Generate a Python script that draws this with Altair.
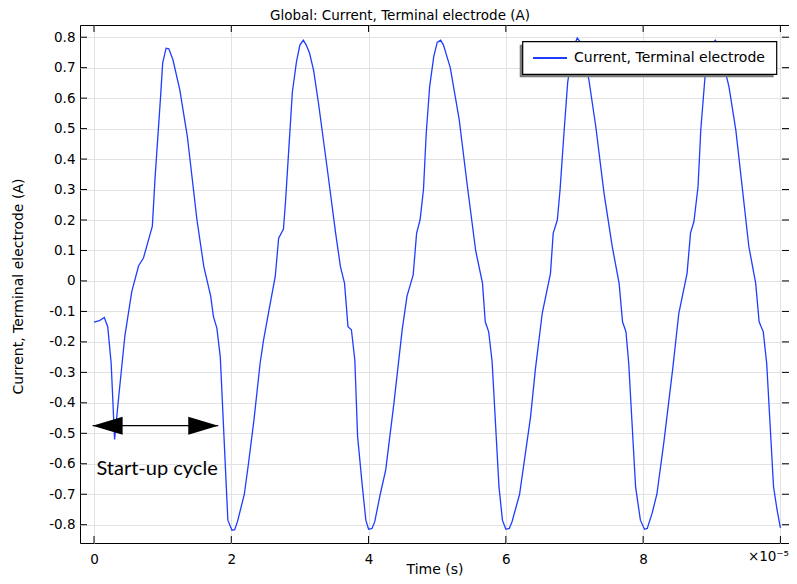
import altair as alt
import pandas as pd

# ---- data ----
time = [0.00, 0.08, 0.15, 0.20, 0.25, 0.30, 0.36, 0.45, 0.55, 0.65, 0.72, 0.85, 0.89, 0.97,
        1.00, 1.05, 1.09, 1.15, 1.25, 1.36, 1.50, 1.60, 1.70, 1.74, 1.79, 1.84, 1.95, 2.01,
        2.05, 2.09, 2.19, 2.25, 2.33, 2.42, 2.47, 2.55, 2.64, 2.69, 2.76, 2.79, 2.84, 2.89,
        2.95, 3.00, 3.05, 3.09, 3.14, 3.20, 3.27, 3.40, 3.52, 3.59, 3.65, 3.70, 3.75, 3.80,
        3.84, 3.91, 3.96, 4.00, 4.05, 4.09, 4.17, 4.25, 4.37, 4.49, 4.56, 4.65, 4.70, 4.75,
        4.80, 4.84, 4.89, 4.95, 5.00, 5.05, 5.09, 5.19, 5.32, 5.44, 5.56, 5.66, 5.70, 5.75,
        5.80, 5.90, 5.95, 6.00, 6.05, 6.09, 6.20, 6.36, 6.43, 6.53, 6.65, 6.69, 6.75, 6.79,
        6.85, 6.90, 6.97, 7.04, 7.10, 7.21, 7.31, 7.43, 7.55, 7.65, 7.70, 7.75, 7.79, 7.89,
        7.96, 8.02, 8.06, 8.13, 8.20, 8.30, 8.43, 8.52, 8.64, 8.69, 8.74, 8.80, 8.84, 8.90,
        8.97, 9.05, 9.11, 9.25, 9.35, 9.54, 9.64, 9.69, 9.75, 9.80, 9.90, 9.95, 10.00]
current = [-0.135, -0.130, -0.120, -0.150, -0.270, -0.520, -0.380, -0.180, -0.035, 0.050,
           0.075, 0.180, 0.340, 0.605, 0.715, 0.764, 0.762, 0.726, 0.627, 0.474, 0.200,
           0.047, -0.050, -0.117, -0.155, -0.250, -0.785, -0.818, -0.816, -0.790, -0.700,
           -0.600, -0.457, -0.270, -0.194, -0.095, 0.014, 0.140, 0.170, 0.260, 0.440, 0.620,
           0.720, 0.775, 0.790, 0.775, 0.748, 0.690, 0.584, 0.365, 0.157, 0.047, -0.008,
           -0.150, -0.160, -0.260, -0.510, -0.676, -0.785, -0.815, -0.812, -0.790, -0.700,
           -0.620, -0.400, -0.160, -0.050, 0.020, 0.157, 0.200, 0.300, 0.485, 0.638, 0.737,
           0.783, 0.790, 0.775, 0.700, 0.530, 0.310, 0.100, -0.008, -0.134, -0.167, -0.265,
           -0.676, -0.785, -0.815, -0.812, -0.790, -0.700, -0.446, -0.290, -0.106, 0.025,
           0.157, 0.200, 0.300, 0.496, 0.650, 0.760, 0.797, 0.780, 0.660, 0.507, 0.288,
           0.113, -0.008, -0.134, -0.167, -0.270, -0.676, -0.785, -0.815, -0.812, -0.763,
           -0.700, -0.533, -0.290, -0.106, 0.025, 0.157, 0.195, 0.310, 0.496, 0.666, 0.760,
           0.790, 0.770, 0.638, 0.496, 0.113, -0.008, -0.134, -0.167, -0.270, -0.676, -0.750,
           -0.810]

x_ticks = [0, 2, 4, 6, 8, 10]
y_ticks = [-0.8, -0.7, -0.6, -0.5, -0.4, -0.3, -0.2, -0.1, 0.0,
           0.1, 0.2, 0.3, 0.4, 0.5, 0.6, 0.7, 0.8]

series_name = "Current, Terminal electrode"
chart_title = "Global: Current, Terminal electrode (A)"
x_title = "Time (s)"
y_title = "Current, Terminal electrode (A)"
x_exponent_label = "\u00d710\u207b\u2075"

annot_text = ["Start-up cycle"]
annot_text_x = [0.035]
annot_text_y = [-0.637]
arrow_start = [-0.02]
arrow_end = [1.81]
arrow_y = [-0.475]

# ---- layout / style ----
W, H = 709, 518
X_DOMAIN = [-0.204, 10.125]
Y_DOMAIN = [-0.86, 0.84]
BLUE = "#1f3dff"
FONT = "DejaVu Sans"
LABEL_SIZE = 13.5
TEXT_SIZE = 14

xs = alt.Scale(domain=X_DOMAIN, nice=False, zero=False)
ys = alt.Scale(domain=Y_DOMAIN, nice=False, zero=False)

df = pd.DataFrame({"t": time, "I": current, "series": series_name})

x_axis = alt.Axis(values=x_ticks, title=x_title, grid=True, gridColor="#e2e2e2",
                  ticks=False, tickSize=0, domain=False, labelPadding=9,
                  labelFont=FONT, labelFontSize=LABEL_SIZE, labelColor="black",
                  labelExpr="datum.value == 10 ? '' : datum.label",
                  titleFont=FONT, titleFontSize=TEXT_SIZE, titleFontWeight="normal",
                  titleColor="black", titleY=30, titleBaseline="alphabetic")
y_axis = alt.Axis(values=y_ticks, title=y_title, grid=True, gridColor="#e2e2e2",
                  ticks=False, tickSize=0, domain=False, labelPadding=5,
                  labelFont=FONT, labelFontSize=LABEL_SIZE, labelColor="black",
                  labelExpr="datum.value < 0 ? '-' + format(-datum.value, '.1f') : format(datum.value, '.1~f')",
                  titleFont=FONT, titleFontSize=TEXT_SIZE, titleFontWeight="normal",
                  titleColor="black", titleAngle=-90, titleX=-58, titleY=H / 2 + 2,
                  titleAlign="center", titleBaseline="alphabetic")

def X(field="t"):
    return alt.X(f"{field}:Q", scale=xs, axis=x_axis)

def Y(field="I"):
    return alt.Y(f"{field}:Q", scale=ys, axis=y_axis)

line = alt.Chart(df).mark_line(strokeWidth=1.3, clip=True, color=BLUE).encode(
    x=X(), y=Y())

# inward frame ticks
ytick_df = pd.DataFrame({"I": y_ticks})
xtick_df = pd.DataFrame({"t": x_ticks})
tick_style = dict(color="black", strokeWidth=1)
left_ticks = alt.Chart(ytick_df).mark_rule(**tick_style).encode(
    y=Y(), x=alt.value(0), x2=alt.value(7))
right_ticks = alt.Chart(ytick_df).mark_rule(**tick_style).encode(
    y=Y(), x=alt.value(W - 7), x2=alt.value(W))
bottom_ticks = alt.Chart(xtick_df).mark_rule(**tick_style).encode(
    x=X(), y=alt.value(H - 7), y2=alt.value(H))
top_ticks = alt.Chart(xtick_df).mark_rule(**tick_style).encode(
    x=X(), y=alt.value(0), y2=alt.value(7))

# exponent marker at the right end of the x axis
exp_df = pd.DataFrame({"label": [x_exponent_label]})
exp_text = alt.Chart(exp_df).mark_text(align="right", baseline="middle", font=FONT,
                                       fontSize=LABEL_SIZE, color="black").encode(
    x=alt.value(W), y=alt.value(H + 14), text="label:N")

# legend box (drawn)
leg_df = pd.DataFrame({"label": [series_name]})
leg_shadow = alt.Chart(leg_df).mark_rect(color="#7a7a7a").encode(
    x=alt.value(439.7), x2=alt.value(693.7), y=alt.value(19.7), y2=alt.value(52.3))
leg_box = alt.Chart(leg_df).mark_rect(fill="white", stroke="black", strokeWidth=1.2).encode(
    x=alt.value(442.7), x2=alt.value(696.7), y=alt.value(16.7), y2=alt.value(49.3))
leg_line = alt.Chart(leg_df).mark_rule(color=BLUE, strokeWidth=2).encode(
    x=alt.value(453), x2=alt.value(487), y=alt.value(33))
leg_text = alt.Chart(leg_df).mark_text(align="left", baseline="middle", font=FONT,
                                       fontSize=TEXT_SIZE, color="black").encode(
    x=alt.value(494), y=alt.value(33), text="label:N")

# chart title (drawn as text above the plot)
title_df = pd.DataFrame({"label": [chart_title]})
title_text = alt.Chart(title_df).mark_text(align="center", baseline="alphabetic", font=FONT,
                                           fontSize=13.5, color="black").encode(
    x=alt.value(320), y=alt.value(-5), text="label:N")

# annotation
arrow_df = pd.DataFrame({"t": arrow_start, "t2": arrow_end, "I": arrow_y})
arrow_shaft = alt.Chart(arrow_df).mark_rule(color="black", strokeWidth=1.3).encode(
    x=X(), x2="t2:Q", y=Y())
head_left = alt.Chart(arrow_df).mark_point(
    shape="M0,0L2,-0.6L2,0.6Z", size=900, filled=True, color="black", opacity=1).encode(
    x=X(), y=Y())
head_right = alt.Chart(arrow_df).mark_point(
    shape="M0,0L-2,-0.6L-2,0.6Z", size=900, filled=True, color="black", opacity=1).encode(
    x=X("t2"), y=Y())
annot_df = pd.DataFrame({"t": annot_text_x, "I": annot_text_y, "txt": annot_text})
annot = alt.Chart(annot_df).mark_text(align="left", baseline="alphabetic", font="Lato",
                                      fontSize=20, color="black").encode(
    x=X(), y=Y(), text="txt:N")

chart = alt.layer(
    line, left_ticks, right_ticks, bottom_ticks, top_ticks,
    arrow_shaft, head_left, head_right, annot,
    leg_shadow, leg_box, leg_line, leg_text, title_text, exp_text,
).properties(
    width=W, height=H,
    autosize=alt.AutoSizeParams(type="none"),
    padding={"left": 72, "top": 17, "right": 0, "bottom": 33},
).configure_view(stroke="black", strokeWidth=1)

chart.save("out.html", embed_options={"renderer": "svg", "actions": False})
